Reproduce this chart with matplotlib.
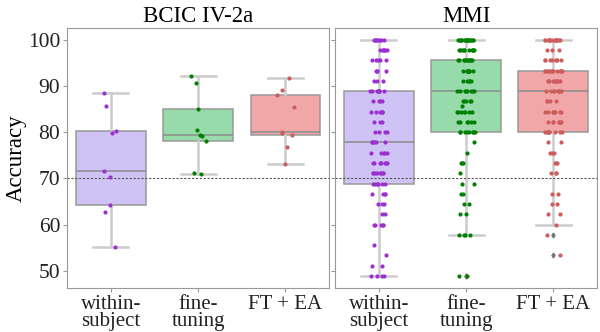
import numpy as np
import matplotlib
matplotlib.use('Agg')
import matplotlib.pyplot as plt

plt.rcParams['font.family'] = ['Liberation Serif', 'DejaVu Serif']

methods = ['within-\nsubject', 'fine-\ntuning', 'FT + EA']
dot_colors = ['#9b30d0', '#008000', '#cd5c5c']
box_colors = ['#cfc3f6', '#98dbaa', '#f1a7a7']

# BCIC IV-2a, 9 subjects
bcic_within = [88.5, 85.6, 80.3, 79.8, 71.6, 70.4, 64.2, 62.7, 55.2]
bcic_finetune = [92.1, 90.7, 85.1, 80.5, 79.4, 79.2, 78.2, 71.2, 70.9]
bcic_ftea = [91.8, 89.2, 88.0, 85.4, 80.1, 79.9, 79.4, 76.8, 73.2]

# MMI: accuracy levels and number of subjects at each level
mmi_levels = [48.89, 51.11, 53.33, 55.56, 57.78, 60.0, 62.22, 64.44, 66.67,
              68.89, 71.11, 73.33, 75.56, 77.78, 80.0, 82.22, 84.44, 85.71,
              86.67, 88.89, 91.11, 93.33, 95.56, 97.78, 100.0]
mmi_within_counts = [4, 2, 1, 1, 0, 5, 2, 3, 4,
                     6, 8, 7, 5, 6, 4, 3, 6, 0,
                     4, 8, 3, 4, 5, 6, 8]
mmi_finetune_counts = [2, 0, 0, 0, 4, 0, 2, 2, 2,
                       2, 1, 3, 1, 1, 8, 6, 7, 1,
                       5, 8, 5, 8, 11, 10, 16]
mmi_ftea_counts = [0, 0, 1, 0, 1, 1, 2, 2, 2,
                   0, 3, 3, 3, 2, 8, 8, 8, 0,
                   4, 8, 10, 13, 8, 3, 15]

bcic = [bcic_within, bcic_finetune, bcic_ftea]
mmi = [np.repeat(mmi_levels, c) for c in
       (mmi_within_counts, mmi_finetune_counts, mmi_ftea_counts)]

fig, axes = plt.subplots(1, 2, figsize=(6, 3.32), dpi=100, sharey=True)
fig.subplots_adjust(left=0.112, right=0.995, top=0.916, bottom=0.133, wspace=0.023)

rng = np.random.default_rng(3)

for ax, groups, title in zip(axes, [bcic, mmi], ['BCIC IV-2a', 'MMI']):
    pos = np.arange(len(groups))
    bp = ax.boxplot(groups, positions=pos, widths=0.8, patch_artist=True, whis=1.52,
                    medianprops=dict(color='#8c8c8c', lw=1.1),
                    boxprops=dict(edgecolor='#999999', lw=1.1),
                    whiskerprops=dict(color='#cccccc', lw=1.8),
                    capprops=dict(color='#cccccc', lw=1.8),
                    flierprops=dict(marker='d', markersize=2.5, markerfacecolor='#777777',
                                    markeredgecolor='#777777'),
                    zorder=1)
    for patch, c in zip(bp['boxes'], box_colors):
        patch.set_facecolor(c)
    for i, vals in enumerate(groups):
        jit = rng.uniform(-0.1, 0.1, len(vals))
        ax.scatter(i + jit, vals, s=9, color=dot_colors[i], lw=0, zorder=3)
    ax.axhline(70, color='#555555', lw=0.8, ls=(0, (2, 1.5)), zorder=2)
    ax.set_title(title, fontsize=16.5, pad=4)
    ax.set_xticks(pos)
    ax.set_xticklabels(methods, fontsize=15, linespacing=0.9)
    ax.set_xlim(-0.5, 2.5)
    for sp in ax.spines.values():
        sp.set_color('#999999')
    ax.tick_params(colors='#999999', labelcolor='#222222', length=3, pad=2)

axes[0].set_ylim(46.3, 102.6)
axes[0].set_yticks([50, 60, 70, 80, 90, 100])
axes[0].tick_params(axis='y', labelsize=15.5)
axes[0].set_ylabel('Accuracy', fontsize=16.5, labelpad=1)

fig.savefig('out.png', dpi=100)
